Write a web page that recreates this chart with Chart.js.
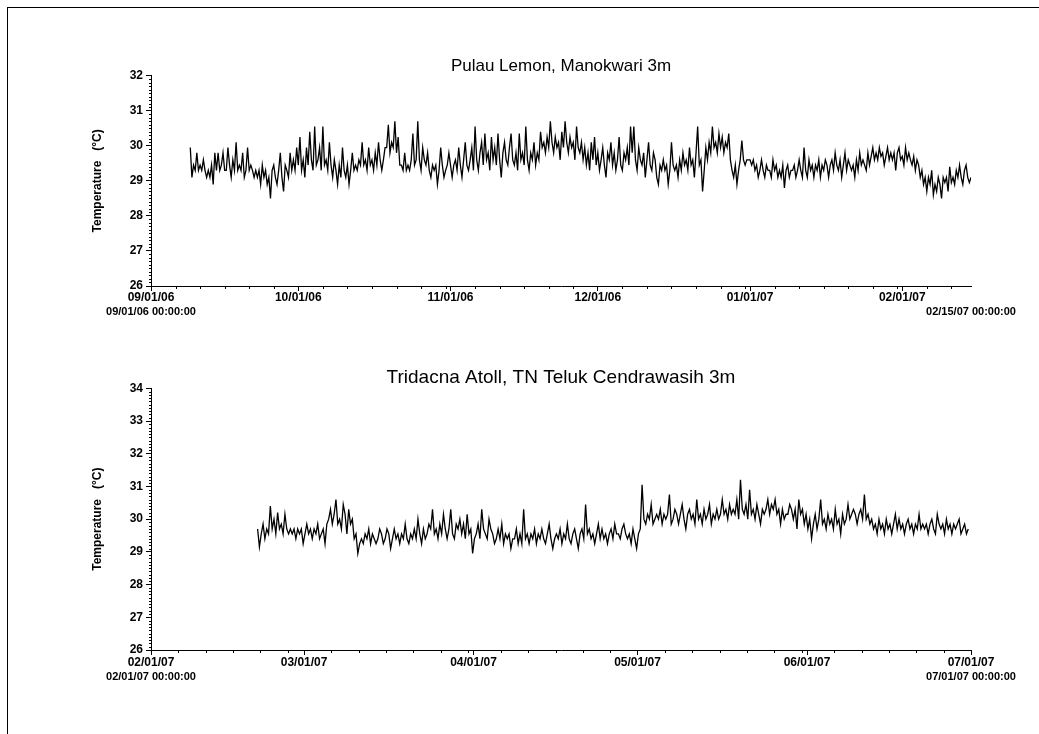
<!DOCTYPE html>
<html>
<head>
<meta charset="utf-8">
<script src="https://cdn.jsdelivr.net/npm/chart.js@4.4.0/dist/chart.umd.min.js"></script>
<style>
  html, body { margin: 0; padding: 0; background: #fff; }
  body { width: 1039px; height: 734px; position: relative; overflow: hidden; }
  #frame { position: absolute; left: 7px; top: 7px; width: 1100px; height: 800px; border: 1px solid #000; }
  canvas { position: absolute; left: 0; }
  #c1 { top: 0; }
  #c2 { top: 330px; }
</style>
</head>
<body>
<div id="frame"></div>
<canvas id="c1" width="1039" height="330"></canvas>
<canvas id="c2" width="1039" height="404"></canvas>
<script>
// --- Pulau Lemon: readings every 8 h, starting 8 days after 09/01/06 ---
const lemonStart = 8;
const lemonTemps = [
  29.95,29.1,29.45, 29.3,29.8,29.3, 29.45,29.3,29.6, 29.3,29.1,29.3, 29.1,29.45,28.9,
  29.8,29.3,29.8, 29.3,29.45,29.8, 29.3,29.3,29.95, 29.45,29.1,29.6, 29.3,30.1,29.3,
  29.45,29.3,29.8, 29.1,29.3,29.95, 29.3,29.45,29.3, 29.1,29.3,29.1, 29.3,28.9,29.45,
  29.1,29.3,28.9, 29.1,28.5,29.3, 29.45,29.1,28.9, 29.3,29.8,29.1, 28.7,29.45,29.3,
  29.1,29.8,29.3, 29.6,29.3,29.95, 29.45,30.25,29.3, 29.6,29.1,29.95, 29.45,30.4,29.6,
  29.3,30.55,29.45, 29.6,29.95,29.3, 30.55,29.45,29.6, 29.3,30.1,29.45, 29.1,29.6,29.3,
  28.9,29.45,29.1, 29.95,29.3,29.1, 29.45,28.9,29.3, 29.8,29.3,29.45, 29.3,29.6,29.45,
  30.1,29.45,29.6, 29.3,29.95,29.45, 29.6,29.3,29.8, 29.45,30.1,29.6, 29.3,29.6,29.95,
  29.95,30.6,29.8, 30.1,29.95,30.7, 29.8,30.25,29.45, 29.45,29.3,29.8, 29.3,29.45,29.3,
  29.6,30.35,29.45, 29.6,30.7,29.6, 29.3,29.95,29.6, 29.45,29.8,29.3, 29.1,29.45,29.3,
  29.45,28.9,29.3, 29.95,29.45,29.1, 29.3,29.45,29.8, 29.45,29.1,29.45, 29.6,29.3,29.95,
  29.45,29.1,29.6, 30.1,29.45,29.3, 29.6,29.95,29.3, 30.55,29.6,29.3, 29.8,30.1,29.45,
  30.35,29.6,29.8, 29.3,30.25,29.6, 29.95,29.45,30.35, 29.6,29.1,29.8, 30.1,29.6,29.45,
  29.95,30.35,29.6, 29.45,29.8,29.3, 30.35,29.6,29.8, 29.45,30.55,29.6, 29.3,29.8,29.6,
  30.1,29.45,29.8, 29.6,30.4,29.95, 30.1,29.8,30.25, 29.95,30.7,30.1, 29.8,30.25,29.95,
  30.1,29.6,30.4, 29.95,30.7,30.1, 29.8,30.25,29.95, 30.1,29.6,30.55, 29.95,29.8,30.1,
  29.6,29.95,29.45, 29.8,29.3,30.1, 29.6,30.25,29.45, 29.8,29.3,29.6, 29.95,29.45,29.1,
  29.8,29.6,30.1, 29.45,29.8,29.3, 29.6,30.25,29.45, 29.3,29.8,29.6, 29.95,29.45,30.55,
  29.8,30.55,29.6, 29.3,29.95,29.6, 29.45,29.8,29.1, 29.6,30.1,29.45, 29.3,29.8,29.6,
  29.1,28.9,29.45, 29.3,29.6,29.3, 29.45,28.9,29.3, 30.1,29.45,29.3, 29.45,29.1,29.6,
  29.3,29.8,29.45, 29.6,29.3,29.95, 29.45,29.6,29.1, 29.8,30.55,29.45, 29.6,28.7,29.3,
  29.95,29.6,30.1, 29.8,30.55,29.95, 30.1,29.8,30.35, 29.95,30.25,29.8, 30.1,29.95,30.35,
  29.6,29.3,29.1, 29.45,28.9,29.3, 29.6,30.15,29.6, 29.45,29.6,29.6, 29.6,29.45,29.6,
  29.3,29.45,29.1, 29.3,29.6,29.3, 29.1,29.45,29.3, 29.3,29.1,29.6, 29.3,29.45,29.1,
  29.3,29.1,29.45, 28.8,29.3,29.45, 29.1,29.3,29.3, 29.45,29.1,29.3, 29.6,29.3,29.1,
  29.95,29.3,29.1, 29.6,29.3,29.45, 29.1,29.45,29.3, 29.6,29.1,29.45, 29.3,29.6,29.45,
  29.1,29.45,29.6, 29.3,29.8,29.45, 29.3,29.6,29.1, 29.45,29.8,29.3, 29.6,29.45,29.3,
  29.45,29.1,29.6, 29.3,29.8,29.45, 29.6,29.45,29.3, 29.8,29.45,29.7, 29.95,29.6,29.8,
  29.6,29.95,29.7, 29.8,29.45,29.7, 29.95,29.6,29.8, 29.6,29.8,29.3, 29.8,29.95,29.6,
  29.7,29.45,29.95, 29.6,29.8,29.6, 29.45,29.7,29.3, 29.6,29.45,29.1, 29.3,28.9,29.1,
  28.7,29.1,28.9, 29.3,28.6,28.9, 28.7,29.1,28.9, 28.5,29.1,28.95, 29.1,28.7,29.4,
  28.95,29.1,28.9, 29.3,29.1,29.45, 29.1,28.9,29.3, 29.45,29.1,28.95, 29.1
];
const lemonMonthDays = [0, 30, 61, 91, 122, 153];
const lemonMonthLabels = ['09/01/06', '10/01/06', '11/01/06', '12/01/06', '01/01/07', '02/01/07'];
const lemonStamps = ['09/01/06 00:00:00', '02/15/07 00:00:00'];

// --- Tridacna Atoll: readings every 8 h, starting 19.5 days after 02/01/07 ---
const tridacnaStart = 19.5;
const tridacnaTemps = [
  29.7,29.15,29.55, 29.85,29.4,29.7, 29.55,30.4,29.7, 30.0,29.55,30.2, 29.7,29.85,29.55,
  30.15,29.7,29.55, 29.7,29.55,29.7, 29.4,29.7,29.55, 29.7,29.25,29.55, 29.85,29.55,29.7,
  29.4,29.7,29.55, 29.85,29.4,29.55, 29.7,29.25,29.85, 30.0,30.3,29.85, 30.15,30.6,29.85,
  30.0,29.7,30.45, 30.15,29.55,30.3, 29.85,30.0,29.4, 29.55,28.95,29.25, 29.4,29.25,29.55,
  29.4,29.7,29.25, 29.55,29.4,29.25, 29.4,29.7,29.55, 29.25,29.4,29.7, 29.55,29.1,29.4,
  29.7,29.4,29.55, 29.25,29.55,29.4, 29.85,29.4,29.25, 29.55,29.4,29.7, 29.4,30.0,29.55,
  29.25,29.7,29.4, 29.55,29.85,29.7, 30.3,29.55,29.7, 29.4,29.85,29.55, 30.15,29.7,29.4,
  29.7,30.3,29.55, 29.4,29.85,29.7, 30.0,29.55,29.85, 29.4,30.15,29.55, 29.7,28.95,29.4,
  29.55,29.85,29.4, 30.3,29.7,29.55, 29.4,30.0,29.7, 29.55,29.25,29.4, 29.7,29.4,29.85,
  29.25,29.55,29.4, 29.55,29.1,29.4, 29.4,29.7,29.25, 29.55,29.25,30.3, 29.4,29.55,29.25,
  29.55,29.4,29.7, 29.25,29.55,29.4, 29.7,29.4,29.25, 29.55,29.85,29.4, 29.1,29.4,29.55,
  29.4,29.7,29.25, 29.55,29.4,29.85, 29.4,29.25,29.55, 29.7,29.4,29.1, 29.55,29.7,29.4,
  30.45,29.55,29.7, 29.4,29.55,29.25, 29.55,29.85,29.4, 29.7,29.4,29.55, 29.25,29.55,29.7,
  29.4,29.85,29.55, 29.55,29.4,29.7, 29.85,29.55,29.4, 29.55,29.25,29.7, 29.4,29.1,29.55,
  29.7,31.05,30.0, 29.85,30.15,30.0, 30.45,29.85,30.0, 30.15,30.0,30.3, 29.85,30.15,30.0,
  30.15,30.75,29.85, 30.0,30.3,30.15, 29.85,30.15,30.45, 30.0,29.7,30.15, 30.3,30.0,30.15,
  29.85,30.6,30.0, 30.15,29.85,30.3, 30.0,30.15,30.45, 29.85,30.15,30.0, 30.3,30.0,30.15,
  30.6,30.15,30.3, 30.0,30.45,30.15, 30.3,30.15,30.6, 30.0,31.2,30.3, 30.15,30.45,30.0,
  30.9,30.15,30.3, 30.0,30.45,30.15, 29.85,30.3,30.15, 30.3,30.6,30.15, 30.45,30.3,30.6,
  30.15,30.3,29.85, 30.3,30.0,30.15, 30.15,30.45,30.3, 30.0,30.3,29.7, 30.6,30.15,30.3,
  29.85,30.15,29.7, 30.0,29.4,29.85, 30.15,29.7,30.0, 30.6,29.85,30.0, 29.7,30.15,29.85,
  30.0,29.7,30.3, 29.85,30.0,29.55, 30.15,29.85,30.0, 30.45,30.0,30.15, 30.3,30.15,29.85,
  30.15,30.3,30.0, 30.75,30.0,30.15, 29.85,30.0,29.7, 29.85,29.55,30.0, 29.7,29.85,29.55,
  30.0,29.7,29.85, 29.55,29.85,30.15, 29.7,30.0,29.7, 29.85,29.55,29.85, 30.0,29.7,29.85,
  29.55,29.85,29.7, 30.15,29.7,29.85, 29.7,29.85,29.55, 29.85,30.0,29.7, 29.55,30.15,29.85,
  29.7,29.85,29.55, 30.0,29.7,29.85, 29.55,29.85,29.7, 29.85,30.0,29.55, 29.7,29.85,29.55,
  29.7
];
const tridacnaMonthDays = [0, 28, 59, 89, 120, 150];
const tridacnaMonthLabels = ['02/01/07', '03/01/07', '04/01/07', '05/01/07', '06/01/07', '07/01/07'];
const tridacnaStamps = ['02/01/07 00:00:00', '07/01/07 00:00:00'];

Chart.defaults.font.family = '"Liberation Sans", Arial, sans-serif';
Chart.defaults.color = '#000';

// small ticks every 5 days / 0.1 degC, plus the start/end date stamps
const minorTicks = {
  id: 'minorTicks',
  afterDraw(chart, args, opts) {
    const { ctx } = chart;
    const xs = chart.scales.x, ys = chart.scales.y;
    ctx.save();
    ctx.strokeStyle = '#000';
    ctx.lineWidth = 1;
    ctx.beginPath();
    for (let k = Math.round(ys.min * 10) + 1; k < ys.max * 10; k++) {
      if (k % 10 === 0) continue;
      const py = Math.round(ys.getPixelForValue(k / 10)) + 0.5;
      ctx.moveTo(xs.left - 2, py);
      ctx.lineTo(xs.left, py);
    }
    opts.months.forEach((m, i) => {
      const next = i + 1 < opts.months.length ? opts.months[i + 1] : xs.max;
      for (let d = m + 5; d < next && d < xs.max; d += 5) {
        const px = Math.round(xs.getPixelForValue(d)) + 0.5;
        ctx.moveTo(px, ys.bottom);
        ctx.lineTo(px, ys.bottom + 3);
      }
    });
    ctx.stroke();
    ctx.font = 'bold 11px "Liberation Sans", Arial, sans-serif';
    ctx.fillStyle = '#000';
    ctx.textAlign = 'center';
    ctx.textBaseline = 'middle';
    ctx.fillText(opts.stamps[0], xs.getPixelForValue(xs.min), opts.stampY);
    ctx.fillText(opts.stamps[1], xs.getPixelForValue(xs.max), opts.stampY);
    ctx.restore();
  }
};

function buildChart(id, o) {
  const points = o.temps.map((t, i) => ({ x: o.start + i / 3, y: t }));
  return new Chart(document.getElementById(id), {
    type: 'line',
    data: {
      datasets: [{
        data: points,
        borderColor: '#000',
        borderWidth: 1.3,
        pointRadius: 0,
        tension: 0,
        fill: false
      }]
    },
    options: {
      responsive: false,
      animation: false,
      events: [],
      layout: { padding: { left: 90, right: 68, top: 0, bottom: 0 } },
      plugins: {
        legend: { display: false },
        tooltip: { enabled: false },
        title: {
          display: true,
          fullSize: false,
          text: o.title,
          color: '#000',
          font: { size: o.titleSize, weight: 'normal', lineHeight: 1 },
          padding: { top: o.titleTop, bottom: o.titleBottom }
        },
        minorTicks: { months: o.months, stamps: o.stamps, stampY: o.stampY }
      },
      scales: {
        x: {
          type: 'linear',
          min: o.range[0],
          max: o.range[1],
          afterBuildTicks: s => { s.ticks = o.months.map(v => ({ value: v })); },
          afterFit: s => { s.height = o.xHeight; },
          grid: { drawOnChartArea: false, tickLength: 5, color: '#000' },
          border: { color: '#000' },
          ticks: {
            autoSkip: false,
            maxRotation: 0,
            padding: o.xPad,
            color: '#000',
            font: { size: 12, weight: 'bold' },
            callback: (v, i) => o.monthLabels[i]
          }
        },
        y: {
          min: o.yRange[0],
          max: o.yRange[1],
          afterFit: s => { s.width = 61; },
          grid: { drawOnChartArea: false, tickLength: 5, color: '#000' },
          border: { color: '#000' },
          ticks: { stepSize: 1, padding: 3, color: '#000', font: { size: 12, weight: 'bold' } },
          title: {
            display: true,
            text: 'Temperature   (°C)',
            color: '#000',
            font: { size: 12, weight: 'bold' },
            padding: { top: 0, bottom: 0 }
          }
        }
      }
    },
    plugins: [minorTicks]
  });
}

buildChart('c1', {
  title: 'Pulau Lemon, Manokwari 3m', titleSize: 17, titleTop: 57.5, titleBottom: 1.2,
  temps: lemonTemps, start: lemonStart, range: [0, 167], yRange: [26, 32],
  months: lemonMonthDays, monthLabels: lemonMonthLabels, stamps: lemonStamps,
  xHeight: 44, xPad: -1, stampY: 311.5
});

buildChart('c2', {
  title: 'Tridacna Atoll, TN Teluk Cendrawasih 3m', titleSize: 19, titleTop: 38.5, titleBottom: 0.8,
  temps: tridacnaTemps, start: tridacnaStart, range: [0, 150], yRange: [26, 34],
  months: tridacnaMonthDays, monthLabels: tridacnaMonthLabels, stamps: tridacnaStamps,
  xHeight: 84, xPad: 0, stampY: 347
});
</script>
</body>
</html>
